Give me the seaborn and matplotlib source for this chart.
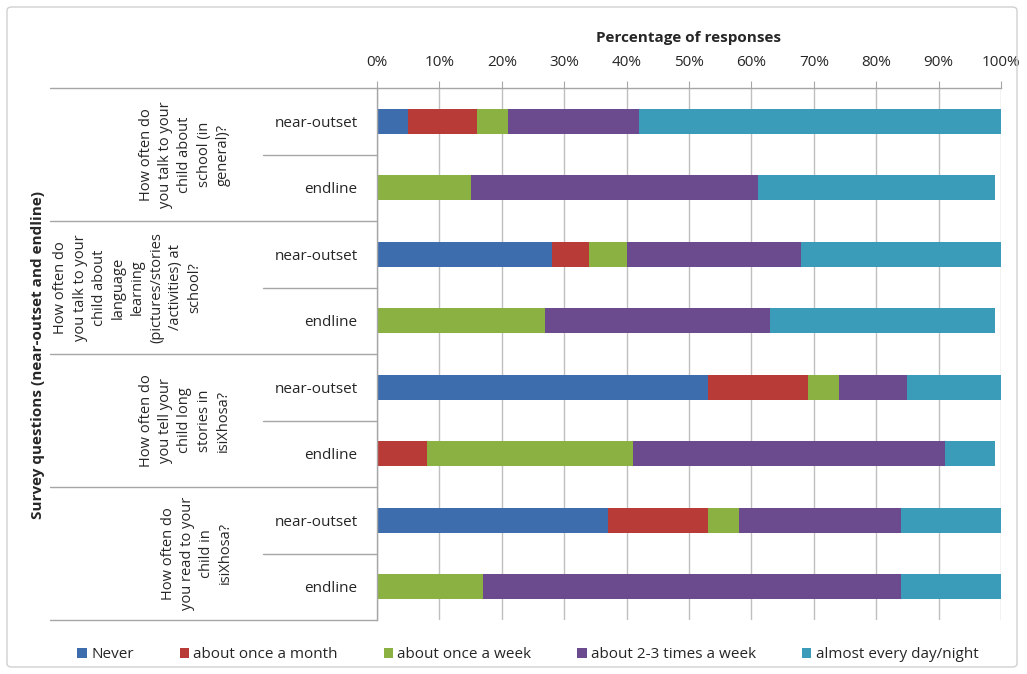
import numpy as np
import pandas as pd
import seaborn as sns
import matplotlib.pyplot as plt
import matplotlib.transforms as mtransforms
from matplotlib.patches import Patch, FancyBboxPatch

# Survey questions (one group of two bars each)
questions = [
    "How often do\nyou talk to your\nchild about\nschool (in\ngeneral)?",
    "How often do\nyou talk to your\nchild about\nlanguage\nlearning\n(pictures/stories\n/activities) at\nschool?",
    "How often do\nyou tell your\nchild long\nstories in\nisiXhosa?",
    "How often do\nyou read to your\nchild in\nisiXhosa?",
]
waves = ["near-outset", "endline"]
responses = ["Never", "about once a month", "about once a week",
             "about 2-3 times a week", "almost every day/night"]

# Percentage of responses, one value per bar (question x wave, top to bottom)
never = [5, 0, 28, 0, 53, 0, 37, 0]
once_month = [11, 0, 6, 0, 16, 8, 16, 0]
once_week = [5, 15, 6, 27, 5, 33, 5, 17]
two_three_week = [21, 46, 28, 36, 11, 50, 26, 67]
daily = [58, 38, 32, 36, 15, 8, 16, 16]

colors = ["#3E6DAE", "#B93B37", "#8AB141", "#6C4A8E", "#3A9CB8"]

sns.set_style("white")
plt.rcParams["font.family"] = ["Open Sans", "DejaVu Sans"]

rows = [f"q{q + 1}-{w}" for q in range(len(questions)) for w in waves]
df = pd.DataFrame({"row": rows})
for name, vals in zip(responses, [never, once_month, once_week, two_three_week, daily]):
    df[name] = vals
cum = df[responses].cumsum(axis=1)

fig = plt.figure(figsize=(10.27, 6.74), dpi=100)
ax = fig.add_axes([377 / 1027, 1 - 620 / 674, 624 / 1027, 532 / 674])

# Stacked bars: draw cumulative totals from the outermost segment inwards
for name, col in reversed(list(zip(responses, colors))):
    sns.barplot(x=cum[name], y=df["row"], orient="h", color=col, saturation=1,
                width=0.38, linewidth=0, ax=ax, order=rows)

ax.set_xlim(0, 100)
ax.set_ylim(len(rows) - 0.5, -0.5)
ax.xaxis.tick_top()
ax.xaxis.set_label_position("top")
ax.set_xticks(np.arange(0, 101, 10))
ax.set_xticklabels([f"{v}%" for v in range(0, 101, 10)], fontsize=11)
ax.tick_params(axis="x", direction="out", length=5, color="#A6A6A6", pad=8)
ax.set_xlabel("Percentage of responses", fontsize=11, fontweight="bold", labelpad=9)

ax.set_yticks(range(len(rows)))
ax.set_yticklabels(waves * len(questions), fontsize=11)
ax.tick_params(axis="y", length=0, pad=14)
ax.set_ylabel("")

ax.grid(axis="x", color="#BFBFBF", linewidth=1)
ax.set_axisbelow(True)
for side in ["right", "bottom"]:
    ax.spines[side].set_visible(False)
for side in ["left", "top"]:
    ax.spines[side].set_color("#A6A6A6")
    ax.spines[side].set_linewidth(1)

# Category table to the left of the bars
trans = mtransforms.blended_transform_factory(ax.transAxes, ax.transData)
outer_x = (50 - 377) / 624
inner_x = (263 - 377) / 624
for i in range(len(questions) + 1):
    y = 2 * i - 0.5
    ax.plot([outer_x, 0], [y, y], transform=trans, color="#A6A6A6", lw=1, clip_on=False)
for i in range(len(questions)):
    y = 2 * i + 0.5
    ax.plot([inner_x, 0], [y, y], transform=trans, color="#A6A6A6", lw=1, clip_on=False)

label_x = [185, 128, 185, 197]
for i, (q, px) in enumerate(zip(questions, label_x)):
    ax.text((px - 377) / 624, 2 * i + 0.5, q, transform=trans, rotation=90,
            ha="center", va="center", multialignment="center",
            fontsize=10.5, linespacing=1.38)

fig.text(38 / 1027, 1 - 355 / 674, "Survey questions (near-outset and endline)",
         rotation=90, ha="center", va="center", fontsize=11, fontweight="bold")

handles = [Patch(facecolor=c, edgecolor="none") for c in colors]
fig.legend(handles, responses, loc="center", ncol=5,
           bbox_to_anchor=(528 / 1027, 1 - 655 / 674), frameon=False,
           fontsize=11, handlelength=0.6, handleheight=0.6,
           handletextpad=0.3, columnspacing=3.0)

fig.patches.append(FancyBboxPatch((7 / 1027, 7 / 674), 1010 / 1027, 660 / 674,
                                  boxstyle="round,pad=0,rounding_size=0.005",
                                  transform=fig.transFigure, fill=False,
                                  edgecolor="#D0D0D0", linewidth=1))

fig.savefig("out.png", dpi=100)
